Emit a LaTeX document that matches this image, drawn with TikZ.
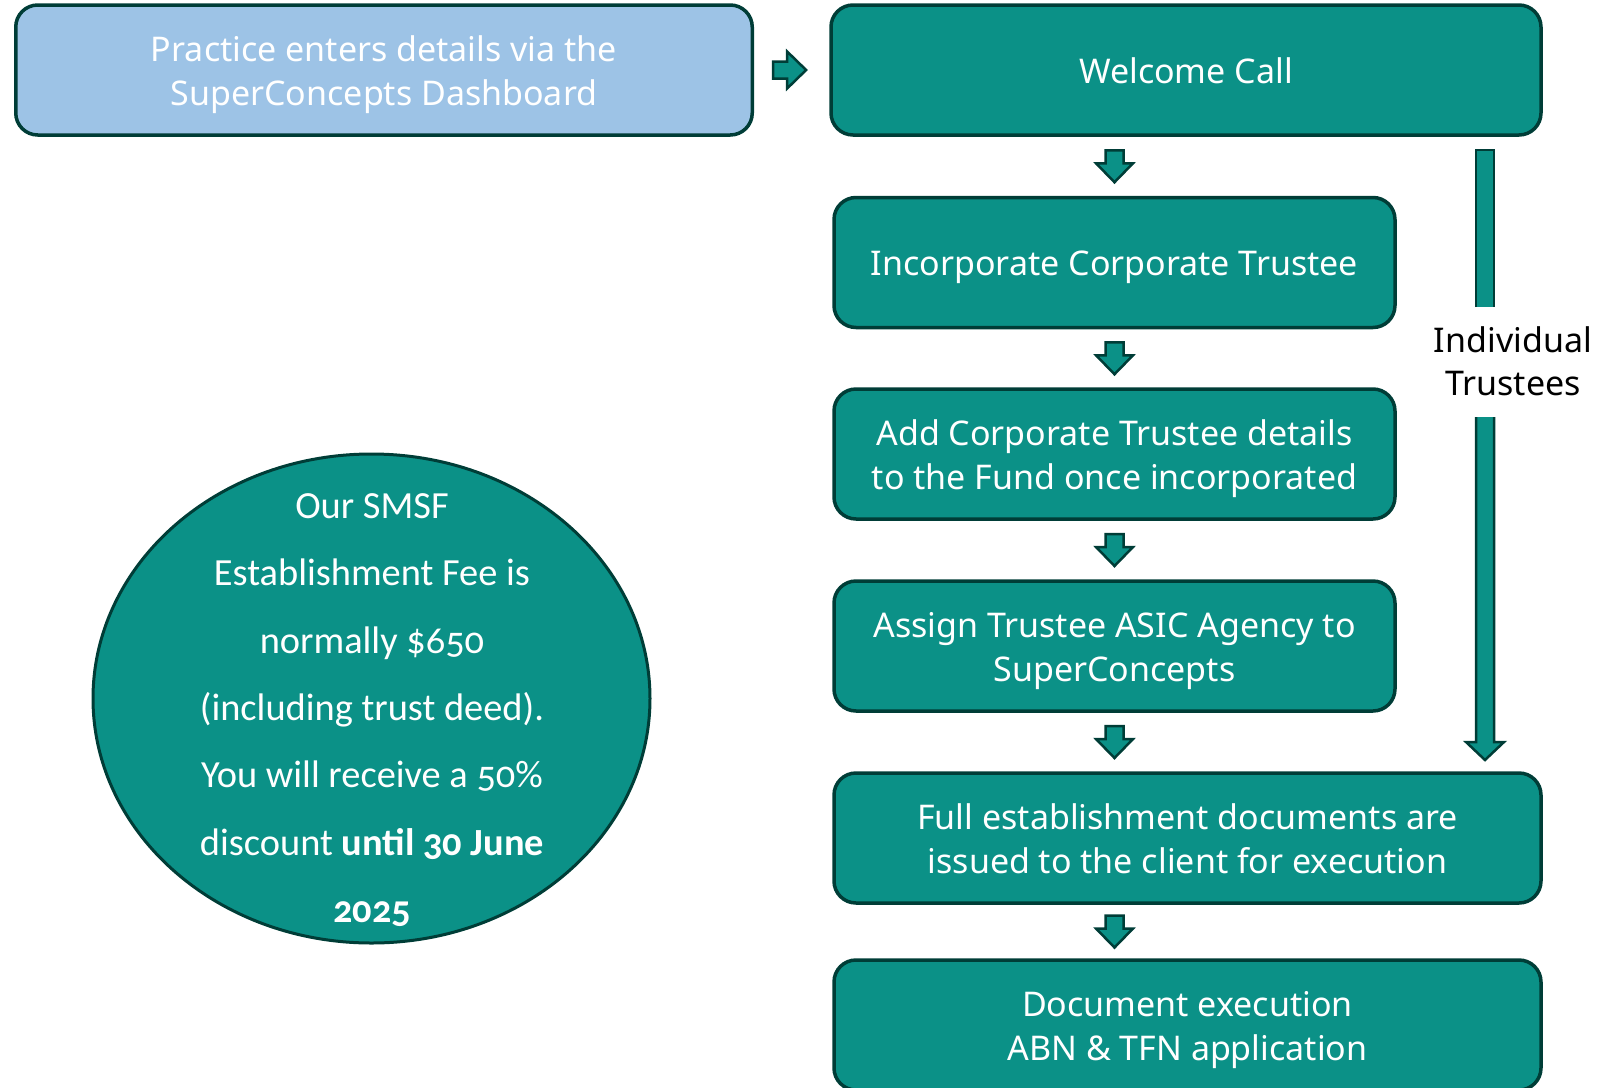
\documentclass[tikz,border=0pt]{standalone}
\usepackage{fontspec}
\setmainfont{Noto Sans}
\newfontfamily\circfont[Numbers=OldStyle]{Carlito}
\usetikzlibrary{shapes.geometric,calc}
\definecolor{teal1}{HTML}{0B9187}
\definecolor{edge1}{HTML}{003D37}
\definecolor{blue1}{HTML}{9DC3E6}
\newcommand\lnstrut{\rule[-4.2pt]{0pt}{21.8pt}}
\begin{document}
\begin{tikzpicture}[x=0.5pt,y=-0.5pt,
  box/.style={draw=edge1, line width=1.75pt, rounded corners=11pt, fill=teal1,
    text=white, font=\fontsize{17}{22.2}\selectfont, align=center,
    minimum height=65pt, inner sep=0pt},
  arr/.style={draw=edge1, line width=1.25pt, fill=teal1, line join=miter},
  darr/.pic={\path[arr] (-9,-16) -- (9,-16) -- (9,-3) -- (18.5,-3) -- (0,16) -- (-18.5,-3) -- (-9,-3) -- cycle;},
  rarr/.pic={\path[arr] (-16.5,-8.5) -- (-2.5,-8.5) -- (-2.5,-18.5) -- (16.5,0) -- (-2.5,18.5) -- (-2.5,8.5) -- (-16.5,8.5) -- cycle;}
]
\useasboundingbox (0,0) rectangle (1619,1088);
\clip (0,0) rectangle (1619,1088);

\node[box, fill=blue1, minimum width=368.25pt] (dash) at (384,70) {\lnstrut Practice enters details via the\\\lnstrut SuperConcepts Dashboard};
\node[box, minimum width=355pt] (wc) at (1186,70) {\lnstrut Welcome Call};
\node[box, minimum width=280.5pt] (inc) at (1114.5,262.5) {\lnstrut Incorporate Corporate Trustee};
\node[box, minimum width=280.5pt] (add) at (1114.5,454) {\lnstrut Add Corporate Trustee details\\\lnstrut to the Fund once incorporated};
\node[box, minimum width=280.5pt] (asg) at (1114.5,646) {\lnstrut Assign Trustee ASIC Agency to\\\lnstrut SuperConcepts};
\node[box, minimum width=353.5pt] (full) at (1187.5,838) {\lnstrut Full establishment documents are\\\lnstrut issued to the client for execution};
\node[box, minimum width=353.5pt] (doc) at (1187.5,1025) {\lnstrut Document execution\\\lnstrut ABN \& TFN application};

\node[ellipse, draw=edge1, line width=1.5pt, fill=teal1, minimum width=278.5pt, minimum height=244.5pt, inner sep=0pt] (fee) at (371.5,698.5) {};
\node[text=white, align=center, font=\circfont\fontsize{19.2}{33.7}\selectfont] (feetext) at (372,710)
  {Our SMSF\\Establishment Fee is\\normally \$650\\(including trust deed).\\You will receive a 50\%\\discount \textbf{until 30 June}\\\textbf{2025}};

\pic at ($(dash.east)!0.5!(wc.west)+(-2,0)$) {rarr};
\pic at ($(wc.south -| inc.north)!0.5!(inc.north)$) {darr};
\pic at ($(inc.south)!0.5!(add.north)$) {darr};
\pic at ($(add.south)!0.5!(asg.north)$) {darr};
\pic at ($(asg.south)!0.5!(asg.south |- full.north)$) {darr};
\pic at ($(full.south -| inc.south)!0.5!(doc.north -| inc.south)$) {darr};

\coordinate (ltop) at (1485,150);
\coordinate (ltip) at (1485,760);
\node[align=center, text=black, font=\fontsize{17}{21.5}\selectfont] (indiv) at (1513,361) {Individual\\Trustees};
\path[arr] ($(ltop)+(-9,157)$) -- ($(ltop)+(-9,0)$) -- ($(ltop)+(9,0)$) -- ($(ltop)+(9,157)$);
\path[arr] ($(ltip)+(-9,-343)$) -- ($(ltip)+(-9,-18)$) -- ($(ltip)+(-19,-18)$) -- (ltip) -- ($(ltip)+(19,-18)$) -- ($(ltip)+(9,-18)$) -- ($(ltip)+(9,-343)$);
\end{tikzpicture}
\end{document}
